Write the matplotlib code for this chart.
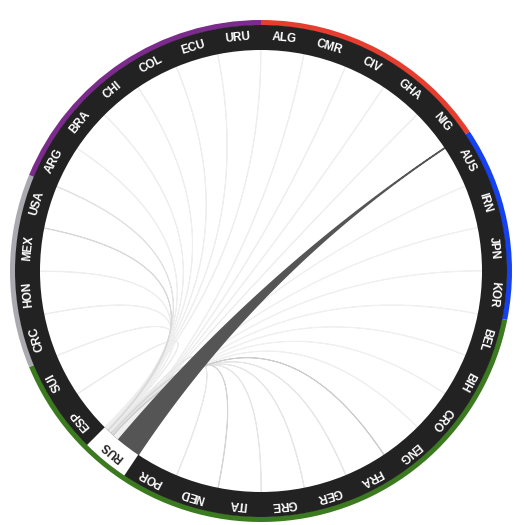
import numpy as np
import matplotlib
matplotlib.use("Agg")
import matplotlib.pyplot as plt
from matplotlib.patches import Wedge, Polygon

# ---- data ----
teams = ["ALG", "CMR", "CIV", "GHA", "NIG", "AUS", "IRN", "JPN", "KOR",
         "BEL", "BIH", "CRO", "ENG", "FRA", "GER", "GRE", "ITA", "NED", "POR",
         "RUS", "ESP", "SUI", "CRC", "HON", "MEX", "USA",
         "ARG", "BRA", "CHI", "COL", "ECU", "URU"]
confeds = ["CAF"] * 5 + ["AFC"] * 4 + ["UEFA"] * 13 + ["CONCACAF"] * 4 + ["CONMEBOL"] * 6
confed_colors = {"CAF": "#e63d2e", "AFC": "#1541f2", "UEFA": "#3b7a1e",
                 "CONCACAF": "#a9a9af", "CONMEBOL": "#7b2b8c"}
highlight = "RUS"
# flow from RUS to each team (width at the RUS end)
rus_values = [1, 1, 1, 1, 40, 1, 1, 1, 1,
              1, 1, 1, 1, 1, 1, 1, 1, 1, 1,
              0, 1, 1, 1, 1, 1, 1,
              1, 1, 1, 1, 1, 1]
chord_greys = ["#eeeeee", "#eeeeee", "#eeeeee", "#eeeeee", "#555555", "#f0f0f0", "#f0f0f0", "#f0f0f0", "#f0f0f0",
               "#f0f0f0", "#f0f0f0", "#efefef", "#cdcdcd", "#e6e6e6", "#e6e6e6", "#e6e6e6", "#d5d5d5", "#e8e8e8", "#e8e8e8",
               "#ffffff", "#ececec", "#eeeeee", "#eeeeee", "#eeeeee", "#d9d9d9", "#e2e2e2",
               "#eeeeee", "#eeeeee", "#eeeeee", "#eeeeee", "#eeeeee", "#eeeeee"]

# ---- layout ----
W = H = 525
cx, cy = 261, 271
r_out, r_ring, r_in = 251, 246, 221
n = len(teams)
seg = 360.0 / n

fig = plt.figure(figsize=(W / 100, H / 100), dpi=100)
ax = fig.add_axes([0, 0, 1, 1])
ax.set_xlim(-cx, W - cx)
ax.set_ylim(-(H - cy), cy)
ax.set_aspect("equal")
ax.axis("off")


def pt(theta_deg, r):
    t = np.radians(theta_deg)
    return np.array([r * np.sin(t), r * np.cos(t)])


def arc(a0, a1, r, k=40):
    ts = np.linspace(a0, a1, k)
    return np.array([pt(t, r) for t in ts])


def qbez(p0, p2, k=80):
    t = np.linspace(0, 1, k)[:, None]
    c = np.zeros(2)
    return (1 - t) ** 2 * p0 + 2 * (1 - t) * t * c + t ** 2 * p2


def ribbon(sa0, sa1, ta0, ta1, r):
    s = arc(sa0, sa1, r)
    b1 = qbez(s[-1], pt(ta0, r))
    tg = arc(ta0, ta1, r)
    b2 = qbez(tg[-1], s[0])
    return np.vstack([s, b1, tg, b2])


# chords from RUS (drawn first, band covers their ends)
hi = teams.index(highlight)
h0, h1 = hi * seg, (hi + 1) * seg
order = sorted([i for i in range(n) if i != hi], key=lambda i: -rus_values[i])
total = sum(rus_values)
cur = h0
chords = []
for i in order:
    w = (h1 - h0) * rus_values[i] / total
    te = (i + 1) * seg
    chords.append((i, cur, cur + w, te - 0.1, te))
    cur += w


def lum(c):
    return int(c[1:3], 16)


for i, sa0, sa1, ta0, ta1 in sorted(chords, key=lambda c: -lum(chord_greys[c[0]])):
    poly = ribbon(sa0, sa1, ta0, ta1, r_in)
    col = chord_greys[i]
    lw = 1.0 if rus_values[i] > 5 else 0.7
    ax.add_patch(Polygon(poly, closed=True, facecolor=col, edgecolor=col,
                         linewidth=lw, joinstyle="round"))

# outer confederation ring (one wedge per confederation)
start = 0
for k in range(1, n + 1):
    if k == n or confeds[k] != confeds[start]:
        a0, a1 = start * seg, k * seg
        ax.add_patch(Wedge((0, 0), r_out, 90 - a1, 90 - a0, width=r_out - r_ring + 0.5,
                           facecolor=confed_colors[confeds[start]], edgecolor="none"))
        start = k

# black band as one ring, highlighted segment in white
ax.add_patch(Wedge((0, 0), r_ring, 0, 360, width=r_ring - r_in,
                   facecolor="#222222", edgecolor="none"))
a0, a1 = hi * seg, (hi + 1) * seg
ax.add_patch(Wedge((0, 0), r_ring, 90 - a1, 90 - a0, width=r_ring - r_in,
                   facecolor="white", edgecolor="none"))

for i, t in enumerate(teams):
    mid = (i + 0.5) * seg
    p = pt(mid, 234)
    ax.text(p[0], p[1], t, rotation=-mid, rotation_mode="anchor",
            ha="center", va="center", fontsize=8.5, fontweight="bold",
            family=["Liberation Sans", "DejaVu Sans"],
            color="#222222" if t == highlight else "white")

fig.savefig("out.png", dpi=100, facecolor="white")
